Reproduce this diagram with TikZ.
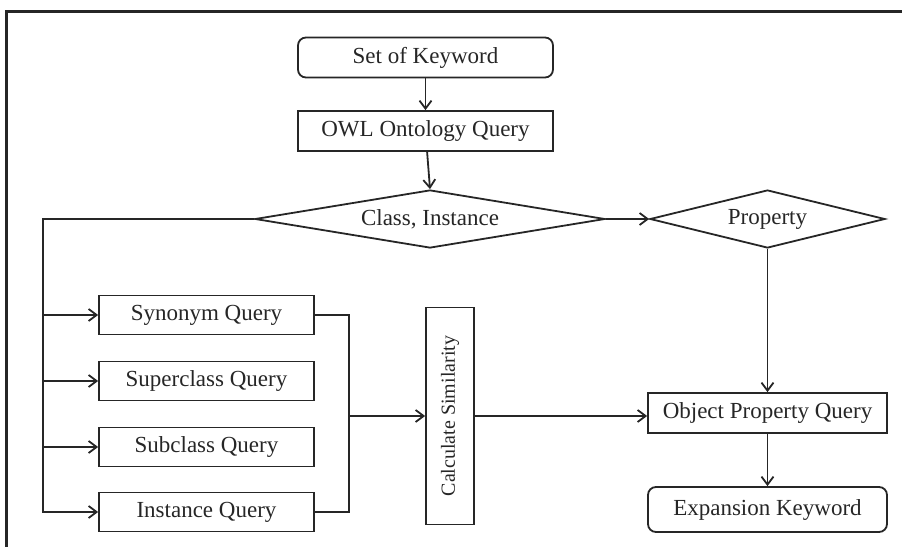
\documentclass[tikz,border=0pt]{standalone}
\usepackage{fontspec}
\setmainfont{Liberation Serif}
\usetikzlibrary{shapes.geometric,arrows.meta}

\begin{document}
\begin{tikzpicture}[x=0.5pt, y=-0.5pt, >={Straight Barb[length=4pt,width=6pt]},
  line width=0.9pt, color=black!85,
  box/.style={draw, minimum width=107.5pt, minimum height=19.5pt, inner sep=0pt,
    font=\fontsize{11.5}{14}\selectfont},
  rbox/.style={box, rounded corners=4pt},
  choice/.style={draw, diamond, inner sep=0pt, minimum height=29pt,
    font=\fontsize{11.5}{14}\selectfont}]
  \useasboundingbox (0,0) rectangle (902,547);
  \clip (0,0) rectangle (902,547);
  \draw[line width=1.5pt] (6,11) rectangle (950,600);

  % top of the flow
  \node[rbox, minimum width=127.5pt, minimum height=20pt] (keys) at (425.5,57.5) {Set of Keyword};
  \node[box, minimum width=127.5pt, minimum height=20pt] (owl) at (425.5,131) {OWL Ontology Query};
  \node[choice, aspect=6, minimum width=175pt] (ci) at (430,219) {Class, Instance};
  \node[choice, aspect=4, minimum width=117.5pt] (prop) at (767.5,219) {Property};

  % query boxes
  \node[box] (syn) at (206.5,315) {Synonym Query};
  \node[box] (sup) at (206.5,381) {Superclass Query};
  \node[box] (sub) at (206.5,447) {Subclass Query};
  \node[box] (inst) at (206.5,512) {Instance Query};
  \node[box, rotate=90, minimum width=108.5pt, minimum height=24pt,
    font=\fontsize{10}{12}\selectfont] (sim) at (450,416) {Calculate Similarity};

  \node[box, minimum width=119.5pt, minimum height=20pt] (opq) at (767.5,413) {Object Property Query};
  \node[rbox, minimum width=119.5pt, minimum height=22.5pt] (exp) at (767.5,509.5) {Expansion Keyword};

  \coordinate (lbus) at (43,0);
  \coordinate (rbus) at (349,0);

  \draw[->] (keys) -- (owl);
  \draw[->] (owl) -- (ci.north);
  \draw[->] (ci.east) -- (prop.west);
  \draw[->] (ci.west) -| (lbus |- inst) -- (inst.west);
  \foreach \q in {syn,sup,sub}
    \draw[->] (lbus |- \q) -- (\q.west);
  \draw (syn.east) -| (rbus |- inst) -- (inst.east);
  \draw[->] (rbus |- sim.north) -- (sim.north);
  \draw[->] (sim.south) -- (sim.south -| opq.west);
  \draw[->] (prop.south) -- (opq.north);
  \draw[->] (opq) -- (exp);
\end{tikzpicture}
\end{document}
